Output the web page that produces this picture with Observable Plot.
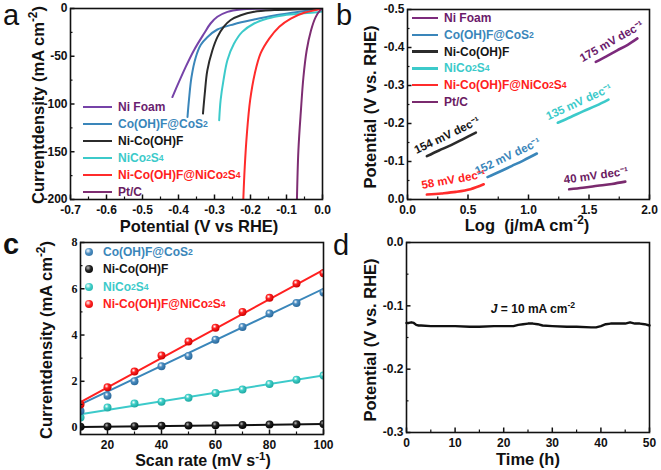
<!DOCTYPE html>
<html><head><meta charset="utf-8">
<script src="https://cdn.jsdelivr.net/npm/d3@7"></script>
<script src="https://cdn.jsdelivr.net/npm/@observablehq/plot@0.6"></script>
<style>
html,body{margin:0;padding:0;background:#fff;}
#fig{position:relative;width:661px;height:470px;overflow:hidden;font-family:"Liberation Sans",Arial,sans-serif;color:#111;}
.panel{position:absolute;}
.panel svg{display:block;overflow:visible;}
.t{position:absolute;font-weight:bold;white-space:nowrap;line-height:1;}
.xl{transform:translate(-50%,-50%);font-size:16.5px;}
.yl{transform:translate(-50%,-50%) rotate(-90deg);font-size:16.5px;}
.letter{position:absolute;font-size:29px;line-height:1.1;white-space:nowrap;}
.row{position:absolute;white-space:nowrap;display:flex;align-items:center;transform:translateY(-50%);font-size:12px;font-weight:bold;line-height:1;}
.sw{display:inline-block;width:29px;height:2.5px;margin-right:6px;}
.mk{display:inline-block;width:8px;height:8px;border-radius:50%;margin-right:10px;}
sub{font-size:0.72em;vertical-align:-0.4em;line-height:0;}
sup{font-size:0.72em;vertical-align:0.55em;line-height:0;}
</style></head><body><div id="fig"></div>
<script>
// ================= DATA =================
// shared series names
const series = ["Ni Foam","Co(OH)F@CoS2","Ni-Co(OH)F","NiCo2S4","Ni-Co(OH)F@NiCo2S4","Pt/C"];

// ---- (a) LSV: potential (V vs RHE) / current density (mA cm-2)
const aNiFoamE = [-0.417,-0.380,-0.357,-0.329,-0.311,-0.292,-0.264,-0.227,-0.153,0];
const aNiFoamJ = [-92.7,-61.2,-43.7,-26.2,-15.7,-8.7,-3.5,-1.0,-0.1,0];
const aCoE = [-0.375,-0.371,-0.364,-0.352,-0.338,-0.320,-0.292,-0.246,-0.190,-0.134,-0.079,-0.032,0];
const aCoJ = [-113.6,-96,-72,-51,-38,-30,-22,-16.4,-11.5,-7.3,-4.2,-1.7,0];
const aNiCoE = [-0.332,-0.327,-0.320,-0.306,-0.292,-0.274,-0.255,-0.227,-0.190,-0.134,-0.060,0];
const aNiCoJ = [-110,-89,-65,-44,-30,-19,-12,-7,-3.5,-1.7,-0.7,0];
const aNiCo2S4E = [-0.287,-0.283,-0.275,-0.264,-0.246,-0.223,-0.190,-0.153,-0.107,-0.060,-0.023,0];
const aNiCo2S4J = [-117,-96,-75,-54,-37,-24.5,-15.7,-10.5,-7,-5.2,-4.2,-3];
const aCompE = [-0.220,-0.216,-0.210,-0.201,-0.188,-0.172,-0.148,-0.120,-0.088,-0.051,-0.019,0];
const aCompJ = [-200,-166,-131,-96,-68,-47,-31.5,-19,-10.5,-4.5,-1.7,0];
const aPtE = [-0.071,-0.067,-0.060,-0.053,-0.044,-0.032,-0.019,-0.006,0];
const aPtJ = [-200,-149,-107,-72,-44,-23,-9,-1.7,0];
const aXTicks = [-0.7,-0.6,-0.5,-0.4,-0.3,-0.2,-0.1,0];
const aXMinor = [-0.65,-0.55,-0.45,-0.35,-0.25,-0.15,-0.05];
const aYTicks = [-200,-150,-100,-50,0];
const aYMinor = [-175,-125,-75,-25];

// ---- (b) Tafel: log(j) / potential (V vs RHE)
const bNiFoamX = [1.556,1.64,1.73,1.82,1.90];
const bNiFoamY = [-0.362,-0.376,-0.392,-0.407,-0.424];
const bCoX = [0.661,0.76,0.86,0.96,1.069];
const bCoY = [-0.059,-0.073,-0.088,-0.103,-0.121];
const bNiCoX = [0.16,0.26,0.36,0.46,0.565];
const bNiCoY = [-0.114,-0.129,-0.143,-0.159,-0.176];
const bNiCo2S4X = [1.242,1.35,1.45,1.56,1.661];
const bNiCo2S4Y = [-0.202,-0.217,-0.232,-0.247,-0.263];
const bCompX = [0.16,0.28,0.40,0.52,0.63];
const bCompY = [-0.013,-0.016,-0.020,-0.027,-0.040];
const bPtX = [1.336,1.45,1.57,1.69,1.80];
const bPtY = [-0.027,-0.031,-0.036,-0.041,-0.047];
const bSlopes = ["175 mV dec⁻¹","152 mV dec⁻¹","154 mV dec⁻¹","135 mV dec⁻¹","58 mV dec⁻¹","40 mV dec⁻¹"];
const bXTicks = [0,0.5,1,1.5,2];
const bXMinor = [0.25,0.75,1.25,1.75];
const bYTicks = [0,-0.1,-0.2,-0.3,-0.4,-0.5];
const bYMinor = [-0.05,-0.15,-0.25,-0.35,-0.45];

// ---- (c) Cdl: scan rate (mV s-1) / current density (mA cm-2)
const cSeries = ["Co(OH)F@CoS2","Ni-Co(OH)F","NiCo2S4","Ni-Co(OH)F@NiCo2S4"];
const cScan = [10,20,30,40,50,60,70,80,90,100];
const cCo = [0.72,1.38,2.00,2.65,3.09,3.80,4.35,4.93,5.38,5.84];
const cNiCo = [0.03,0.05,0.06,0.08,0.09,0.10,0.11,0.13,0.14,0.15];
const cNiCo2S4 = [0.43,0.87,1.04,1.12,1.29,1.49,1.64,1.88,2.07,2.25];
const cComp = [1.00,1.74,2.42,3.12,3.72,4.32,5.00,5.61,6.23,6.67];
const cFitScan = [10,100];
const cFitCo = [1.0,6.0];
const cFitNiCo = [0.02,0.15];
const cFitNiCo2S4 = [0.58,2.25];
const cFitComp = [1.1,6.82];
const cXTicks = [20,40,60,80,100];
const cXMinor = [10,30,50,70,90];
const cYTicks = [0,2,4,6,8];
const cYMinor = [1,3,5,7];

// ---- (d) stability: time (h) / potential (V vs RHE)
const dTime = [0,0.5,1,1.5,2,2.5,3,5,8,10,13,15,18,20,22,23,24,25,26,27,28,30,33,35,38,39,40,41,42,44,45,46,47,48,49,50];
const dPot = [-0.127,-0.127,-0.126,-0.127,-0.130,-0.131,-0.131,-0.132,-0.132,-0.132,-0.133,-0.133,-0.132,-0.132,-0.132,-0.130,-0.129,-0.128,-0.128,-0.129,-0.131,-0.132,-0.133,-0.133,-0.134,-0.134,-0.132,-0.129,-0.128,-0.128,-0.128,-0.126,-0.128,-0.128,-0.129,-0.131];
const dXTicks = [0,10,20,30,40,50];
const dXMinor = [5,15,25,35,45];
const dYTicks = [0,-0.1,-0.2,-0.3];
const dYMinor = [-0.05,-0.15,-0.25];

// ================= STYLE =================
const aColors = ["#7643a8","#3a86ba","#2b2b2b","#3ccaca","#ff2b2b","#7e2d72"];
const aText   = ["#6a1e70","#3a86ba","#151515","#3ccaca","#ff2020","#6a1e62"];
const bColors = ["#7c2a7c","#3a86ba","#2b2b2b","#3ccaca","#ff2b2b","#7a2a6e"];
const bText   = ["#6b1b6b","#3a86ba","#151515","#3ccaca","#ff2020","#6b1b62"];
const cColors = {"Co(OH)F@CoS2":["#4a8cc0","#2a6a9c"],"Ni-Co(OH)F":["#222","#000"],"NiCo2S4":["#3fcfc8","#1ea8a2"],"Ni-Co(OH)F@NiCo2S4":["#f22","#c00"]};
const cLine = {"Co(OH)F@CoS2":"#3a86ba","Ni-Co(OH)F":"#111","NiCo2S4":"#3ccaca","Ni-Co(OH)F@NiCo2S4":"#ff2020"};
const cText = {"Co(OH)F@CoS2":"#3a86ba","Ni-Co(OH)F":"#151515","NiCo2S4":"#3ccaca","Ni-Co(OH)F@NiCo2S4":"#ff2020"};

const font = '"Liberation Sans", Arial, sans-serif';
const baseStyle = {fontFamily: font, fontSize: "12px", fontWeight: "bold", color: "#111", background: "transparent", overflow: "visible"};
const fmt1 = d => d.toFixed(1);
const fmt0 = d => String(d);
const sub = s => s.replace(/([A-Za-z])(\d)/g, "$1<sub>$2</sub>");

const fig = document.getElementById("fig");
function place(el, left, top) {
  const d = document.createElement("div");
  d.className = "panel"; d.style.left = left + "px"; d.style.top = top + "px";
  d.appendChild(el); fig.appendChild(d); return el;
}
function html(s) { fig.insertAdjacentHTML("beforeend", s); }

function boxAxes({xMajor, xMinor, yMajor, yMinor, xFormat, yFormat, yFont}) {
  return [
    Plot.axisX(xMajor, {tickSize: 0, tickPadding: 6, tickFormat: xFormat, label: null}),
    Plot.axisX(xMajor, {tickSize: -4.5, fill: "none", strokeWidth: 1.5, label: null}),
    Plot.axisX(xMinor, {tickSize: -2.5, fill: "none", strokeWidth: 1.2, label: null}),
    Plot.axisY(yMajor, {tickSize: 0, tickPadding: 3, tickFormat: yFormat, label: null, ...(yFont ? {fontFamily: yFont} : {})}),
    Plot.axisY(yMajor, {tickSize: -4.5, fill: "none", strokeWidth: 1.5, label: null}),
    Plot.axisY(yMinor, {tickSize: -2.5, fill: "none", strokeWidth: 1.2, label: null}),
    Plot.frame({strokeWidth: 1.6})
  ];
}

// ================= PANEL A =================
const aE = [aNiFoamE, aCoE, aNiCoE, aNiCo2S4E, aCompE, aPtE];
const aJ = [aNiFoamJ, aCoJ, aNiCoJ, aNiCo2S4J, aCompJ, aPtJ];
const aRows = series.flatMap((s, k) => aE[k].map((e, i) => ({series: s, E: e, J: aJ[k][i]})));
place(Plot.plot({
  width: 330, height: 235, marginLeft: 70, marginRight: 8, marginTop: 8, marginBottom: 36,
  style: baseStyle,
  x: {domain: [-0.7, 0], label: null},
  y: {domain: [-200, 0], label: null},
  color: {domain: series, range: aColors},
  marks: [
    Plot.line(aRows, {x: "E", y: "J", z: "series", stroke: "series", strokeWidth: 2, curve: "catmull-rom", clip: true}),
    ...boxAxes({xMajor: aXTicks, xMinor: aXMinor, yMajor: aYTicks, yMinor: aYMinor, xFormat: fmt1, yFormat: fmt0})
  ]
}), 0, 0);

// ================= PANEL B =================
const bW = 331, bH = 235, bML = 77, bMR = 12, bMT = 9, bMB = 36;
const bXs = [bNiFoamX, bCoX, bNiCoX, bNiCo2S4X, bCompX, bPtX];
const bYs = [bNiFoamY, bCoY, bNiCoY, bNiCo2S4Y, bCompY, bPtY];
const bRows = series.flatMap((s, k) => bXs[k].map((x, i) => ({series: s, L: x, V: bYs[k][i]})));
const sxB = Plot.scale({x: {domain: [0, 2], range: [bML, bW - bMR]}});
const syB = Plot.scale({y: {domain: [0, -0.5], range: [bH - bMB, bMT]}});
const bGap = 10; // label distance from its line, px
const bLabels = series.map((s, k) => {
  const xs = bXs[k], ys = bYs[k], n = xs.length - 1;
  const x0 = sxB.apply(xs[0]), x1 = sxB.apply(xs[n]), y0 = syB.apply(ys[0]), y1 = syB.apply(ys[n]);
  const a = Math.atan2(y1 - y0, x1 - x0);
  const px = (x0 + x1) / 2 + Math.sin(a) * bGap, py = (y0 + y1) / 2 - Math.cos(a) * bGap;
  return {series: s, text: bSlopes[k], L: sxB.invert(px), V: syB.invert(py), angle: a * 180 / Math.PI};
});
place(Plot.plot({
  width: bW, height: bH, marginLeft: bML, marginRight: bMR, marginTop: bMT, marginBottom: bMB,
  style: baseStyle,
  x: {domain: [0, 2], label: null},
  y: {domain: [0, -0.5], label: null},
  color: {domain: series, range: bColors},
  marks: [
    Plot.line(bRows, {x: "L", y: "V", z: "series", stroke: "series", strokeWidth: 2.6, curve: "catmull-rom"}),
    Plot.text(bLabels, {x: "L", y: "V", text: "text", rotate: "angle", fill: d => bText[series.indexOf(d.series)], fontSize: 11.5, fontWeight: "bold"}),
    ...boxAxes({xMajor: bXTicks, xMinor: bXMinor, yMajor: bYTicks, yMinor: bYMinor, xFormat: fmt1, yFormat: fmt1})
  ]
}), 330, 0);

// ================= PANEL C =================
const cYs = {"Co(OH)F@CoS2": cCo, "Ni-Co(OH)F": cNiCo, "NiCo2S4": cNiCo2S4, "Ni-Co(OH)F@NiCo2S4": cComp};
const cFits = {"Co(OH)F@CoS2": cFitCo, "Ni-Co(OH)F": cFitNiCo, "NiCo2S4": cFitNiCo2S4, "Ni-Co(OH)F@NiCo2S4": cFitComp};
const cOrder = ["Ni-Co(OH)F","NiCo2S4","Co(OH)F@CoS2","Ni-Co(OH)F@NiCo2S4"];
const cMarks = [];
cOrder.forEach((s) => {
  const fit = cFitScan.map((x, i) => ({x, y: cFits[s][i]}));
  cMarks.push(Plot.line(fit, {x: "x", y: "y", stroke: cLine[s], strokeWidth: 2, clip: true}));
});
cOrder.forEach((s) => {
  const pts = cScan.map((x, i) => ({x, y: cYs[s][i]}));
  const id = "g" + cSeries.indexOf(s);
  cMarks.push(Plot.dot(pts, {x: "x", y: "y", r: 4, fill: `url(#${id})`, stroke: "none", clip: true}));
});
const cSvg = place(Plot.plot({
  width: 330, height: 235, marginLeft: 80, marginRight: 7, marginTop: 7, marginBottom: 36,
  style: baseStyle,
  x: {domain: [10, 100], label: null},
  y: {domain: [-0.3, 8], label: null},
  marks: [
    ...cMarks,
    ...boxAxes({xMajor: cXTicks, xMinor: cXMinor, yMajor: cYTicks, yMinor: cYMinor, xFormat: fmt0, yFormat: fmt0, yFont: '"Liberation Serif", "Times New Roman", serif'})
  ]
}), 0, 235);
cSvg.insertAdjacentHTML("afterbegin", "<defs>" + cSeries.map((s, i) =>
  `<radialGradient id="g${i}" cx="38%" cy="35%" r="65%"><stop offset="0%" stop-color="${i === 1 ? "#bbb" : "#fff"}"/><stop offset="40%" stop-color="${cColors[s][0]}"/><stop offset="100%" stop-color="${cColors[s][1]}"/></radialGradient>`).join("") + "</defs>");

// ================= PANEL D =================
const dRows = dTime.map((t, i) => ({t, v: dPot[i]}));
place(Plot.plot({
  width: 331, height: 235, marginLeft: 76, marginRight: 12, marginTop: 7, marginBottom: 38,
  style: baseStyle,
  x: {domain: [0, 50], label: null},
  y: {domain: [-0.3, 0], label: null},
  marks: [
    Plot.line(dRows, {x: "t", y: "v", stroke: "#111", strokeWidth: 2.4}),
    ...boxAxes({xMajor: dXTicks, xMinor: dXMinor, yMajor: dYTicks, yMinor: dYMinor, xFormat: fmt0, yFormat: fmt1})
  ]
}), 330, 235);

// ================= TEXT / LEGENDS =================
html(`<div class="letter" style="left:3px;top:0px">a</div>`);
html(`<div class="letter" style="left:336px;top:0px">b</div>`);
html(`<div class="letter" style="left:3px;top:229px;font-weight:bold">c</div>`);
html(`<div class="letter" style="left:333px;top:230px">d</div>`);

html(`<div class="t xl" style="left:199px;top:226px">Potential (V vs RHE)</div>`);
html(`<div class="t yl" style="left:38px;top:105px">Currentdensity (mA cm<sup>-2</sup>)</div>`);
html(`<div class="t xl" style="left:527px;top:225px">Log&nbsp; (j/mA cm<sup>-2</sup>)</div>`);
html(`<div class="t yl" style="left:370px;top:107px">Potential (V vs. RHE)</div>`);
html(`<div class="t xl" style="left:203px;top:461px;font-size:16px">Scan rate (mV s<sup>-1</sup>)</div>`);
html(`<div class="t yl" style="left:46px;top:340px">Currentdensity (mA cm<sup>-2</sup>)</div>`);
html(`<div class="t xl" style="left:528px;top:459px">Time (h)</div>`);
html(`<div class="t yl" style="left:370px;top:340px">Potential (V vs. RHE)</div>`);
html(`<div class="t" style="left:533px;top:309px;transform:translate(-50%,-50%);font-size:12px"><i>J</i> = 10 mA cm<sup>-2</sup></div>`);

series.forEach((s, k) => {
  html(`<div class="row" style="left:83px;top:${107 + 17 * k}px;color:${aText[k]}"><span class="sw" style="background:${aColors[k]}"></span>${sub(s)}</div>`);
  html(`<div class="row" style="left:412px;top:${18 + 16.8 * k}px;color:${bText[k]}"><span class="sw" style="width:26px;background:${bColors[k]}"></span>${sub(s)}</div>`);
});
cSeries.forEach((s, k) => {
  const [c0, c1] = cColors[s];
  html(`<div class="row" style="left:85px;top:${252 + 17.3 * k}px;color:${cText[s]}"><span class="mk" style="background:radial-gradient(circle at 38% 35%, ${k === 1 ? "#bbb" : "#fff"} 0%, ${c0} 40%, ${c1} 100%)"></span>${sub(s)}</div>`);
});
</script>
</body></html>
